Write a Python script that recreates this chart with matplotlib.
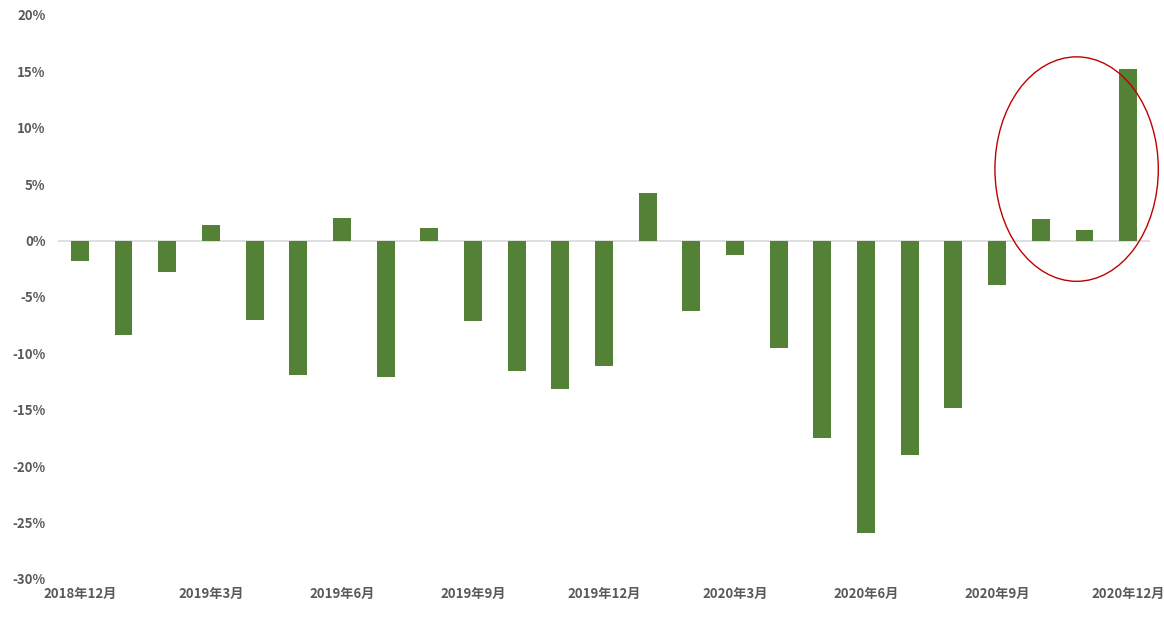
import matplotlib.pyplot as plt
from matplotlib.patches import Ellipse
from matplotlib.ticker import FuncFormatter

plt.rcParams['font.family'] = ['Noto Sans CJK JP', 'DejaVu Sans']

# monthly change (%) from 2018-12 to 2020-12
months = [
    "2018年12月", "2019年1月", "2019年2月", "2019年3月", "2019年4月", "2019年5月",
    "2019年6月", "2019年7月", "2019年8月", "2019年9月", "2019年10月", "2019年11月",
    "2019年12月", "2020年1月", "2020年2月", "2020年3月", "2020年4月", "2020年5月",
    "2020年6月", "2020年7月", "2020年8月", "2020年9月", "2020年10月", "2020年11月",
    "2020年12月",
]
values = [
    -1.8, -8.4, -2.8, 1.4, -7.0, -11.9,
    2.0, -12.1, 1.15, -7.1, -11.6, -13.2,
    -11.1, 4.2, -6.25, -1.3, -9.5, -17.5,
    -25.9, -19.0, -14.8, -3.95, 1.95, 0.97,
    15.2,
]
yticks = [-30, -25, -20, -15, -10, -5, 0, 5, 10, 15, 20]

fig = plt.figure(figsize=(11.64, 6.22), dpi=100)
ax = fig.add_axes([58 / 1164, 1 - 579 / 622, (1150 - 58) / 1164, (579 - 15) / 622])

x = list(range(len(months)))
ax.bar(x, values, width=0.41, color="#538135", zorder=2)
ax.axhline(0, color="#d9d9d9", linewidth=1.2, zorder=1)

ax.set_xlim(-0.5, len(months) - 0.5)
ax.set_ylim(-30, 20)
ax.set_yticks(yticks)
ax.yaxis.set_major_formatter(FuncFormatter(lambda v, p: f"{v:.0f}%"))
ax.set_xticks(x[::3])
ax.set_xticklabels(months[::3])

for s in ax.spines.values():
    s.set_visible(False)
ax.tick_params(length=0, labelsize=9.5, labelcolor="#595959")
ax.tick_params(axis="y", pad=9)
ax.tick_params(axis="x", pad=6)
for lab in ax.get_xticklabels() + ax.get_yticklabels():
    lab.set_fontweight("bold")

# highlight of the last months
ax.add_patch(Ellipse((22.82, 6.34), 3.74, 19.9, fill=False, clip_on=False,
                     edgecolor="#c00000", linewidth=1.0, zorder=3))

fig.savefig("out.png", dpi=100)
